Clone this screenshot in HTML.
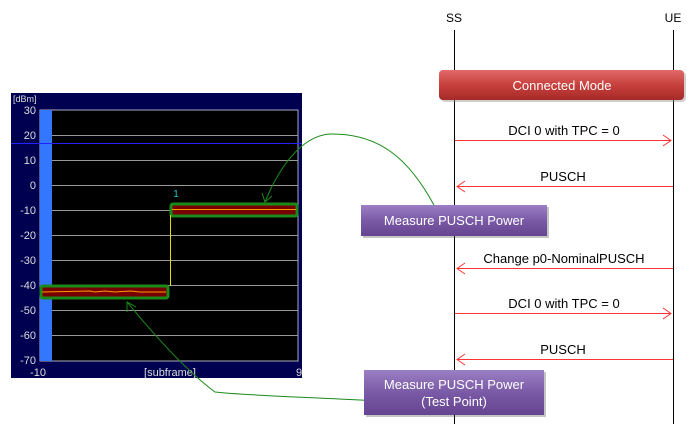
<!DOCTYPE html>
<html><head><style>
body{margin:0;width:695px;height:432px;background:#fff;overflow:hidden;font-family:"Liberation Sans",sans-serif}
</style></head><body>
<svg width="695" height="432" xmlns="http://www.w3.org/2000/svg" font-family="Liberation Sans, sans-serif">
<defs>
<linearGradient id="rg" x1="0" y1="0" x2="0" y2="1"><stop offset="0" stop-color="#e06a68"/><stop offset="0.5" stop-color="#c8403d"/><stop offset="1" stop-color="#a52a28"/></linearGradient>
<linearGradient id="pg" x1="0" y1="0" x2="0" y2="1"><stop offset="0" stop-color="#9b7fc4"/><stop offset="0.5" stop-color="#7a5aa6"/><stop offset="1" stop-color="#654490"/></linearGradient>
</defs>
<line x1="454.5" y1="30" x2="454.5" y2="424" stroke="#000"/>
<line x1="673.5" y1="30" x2="673.5" y2="424" stroke="#000"/>
<text x="454" y="22" font-size="12" text-anchor="middle">SS</text>
<text x="673" y="22" font-size="12" text-anchor="middle">UE</text>
<rect x="441" y="72" width="245" height="30" rx="4" fill="#888" opacity="0.4"/>
<rect x="439" y="70" width="245" height="30" rx="4" fill="url(#rg)"/>
<text x="562" y="90" font-size="13" fill="#fff" text-anchor="middle">Connected Mode</text>
<g stroke="#f33" fill="none" stroke-width="1">
<line x1="455" y1="140.5" x2="671" y2="140.5"/><polyline points="663,135 671,140.5 663,146"/>
<line x1="457" y1="186.5" x2="673" y2="186.5"/><polyline points="465,181 457,186.5 465,192"/>
<line x1="457" y1="268.5" x2="673" y2="268.5"/><polyline points="465,263 457,268.5 465,274"/>
<line x1="455" y1="313.5" x2="671" y2="313.5"/><polyline points="663,308 671,313.5 663,319"/>
<line x1="457" y1="359.5" x2="673" y2="359.5"/><polyline points="465,354 457,359.5 465,365"/>
</g>
<g font-size="13" text-anchor="middle">
<text x="564" y="135">DCI 0 with TPC = 0</text>
<text x="563" y="181">PUSCH</text>
<text x="564" y="263">Change p0-NominalPUSCH</text>
<text x="564" y="308">DCI 0 with TPC = 0</text>
<text x="563" y="354">PUSCH</text>
</g>
<rect x="11" y="93" width="291" height="285" fill="#000050"/>
<rect x="40" y="110" width="258" height="251" fill="#000" stroke="#aab" stroke-width="1"/>
<g stroke="#999" stroke-width="1">
<line x1="52" y1="135.5" x2="298" y2="135.5"/><line x1="52" y1="160.5" x2="298" y2="160.5"/>
<line x1="52" y1="185.5" x2="298" y2="185.5"/><line x1="52" y1="210.5" x2="298" y2="210.5"/>
<line x1="52" y1="235.5" x2="298" y2="235.5"/><line x1="52" y1="260.5" x2="298" y2="260.5"/>
<line x1="52" y1="285.5" x2="298" y2="285.5"/><line x1="52" y1="310.5" x2="298" y2="310.5"/>
<line x1="52" y1="335.5" x2="298" y2="335.5"/>
</g>
<rect x="40" y="110" width="12" height="251" fill="#3377ff"/>
<line x1="11" y1="143.5" x2="302" y2="143.5" stroke="#22f"/>
<g fill="#ddd" font-size="11" text-anchor="end">
<text x="36" y="114">30</text><text x="36" y="139">20</text><text x="36" y="164">10</text><text x="36" y="189">0</text>
<text x="36" y="214">-10</text><text x="36" y="239">-20</text><text x="36" y="264">-30</text><text x="36" y="289">-40</text>
<text x="36" y="314">-50</text><text x="36" y="339">-60</text><text x="36" y="364">-70</text>
</g>
<text x="13" y="102" fill="#ddd" font-size="9">[dBm]</text>
<text x="38" y="376" fill="#ddd" font-size="11" text-anchor="middle">-10</text>
<text x="170" y="376" fill="#ddd" font-size="11" text-anchor="middle">[subframe]</text>
<text x="299" y="376" fill="#ddd" font-size="11" text-anchor="middle">9</text>
<text x="176" y="197" fill="#2cc" font-size="10" text-anchor="middle">1</text>
<rect x="171" y="204" width="126" height="12" fill="#700" stroke="#1a8a1a" stroke-width="3" rx="2"/>
<rect x="41" y="286" width="127" height="12" fill="#700" stroke="#1a8a1a" stroke-width="3" rx="2"/>
<line x1="172" y1="209.5" x2="296" y2="209.5" stroke="#f90"/>
<polyline points="42,292 90,291 95,292 105,291 115,292 130,291 140,292 166,292" stroke="#f90" fill="none"/>
<line x1="170.5" y1="215" x2="170.5" y2="286" stroke="#dd0"/>
<path d="M435,207 C410,160 380,133 330,134 C300,136 278,170 265,202" stroke="#1a8a1a" fill="none"/>
<polyline points="262,193 265,202 272,196" stroke="#1a8a1a" fill="none"/>
<path d="M380,401 C300,397 240,395 215,392 C185,370 150,330 127,302" stroke="#1a8a1a" fill="none"/>
<polyline points="127,312 127,302 136,307" stroke="#1a8a1a" fill="none"/>
<rect x="363" y="207" width="186" height="31" fill="#555" opacity="0.35"/>
<rect x="361" y="205" width="186" height="31" fill="url(#pg)"/>
<text x="454" y="225" font-size="13" fill="#fff" text-anchor="middle">Measure PUSCH Power</text>
<rect x="366" y="372" width="180" height="45" fill="#555" opacity="0.35"/>
<rect x="364" y="370" width="180" height="45" fill="url(#pg)"/>
<text x="454" y="389" font-size="13" fill="#fff" text-anchor="middle">Measure PUSCH Power</text>
<text x="454" y="406" font-size="13" fill="#fff" text-anchor="middle">(Test Point)</text>
</svg>
</body></html>
